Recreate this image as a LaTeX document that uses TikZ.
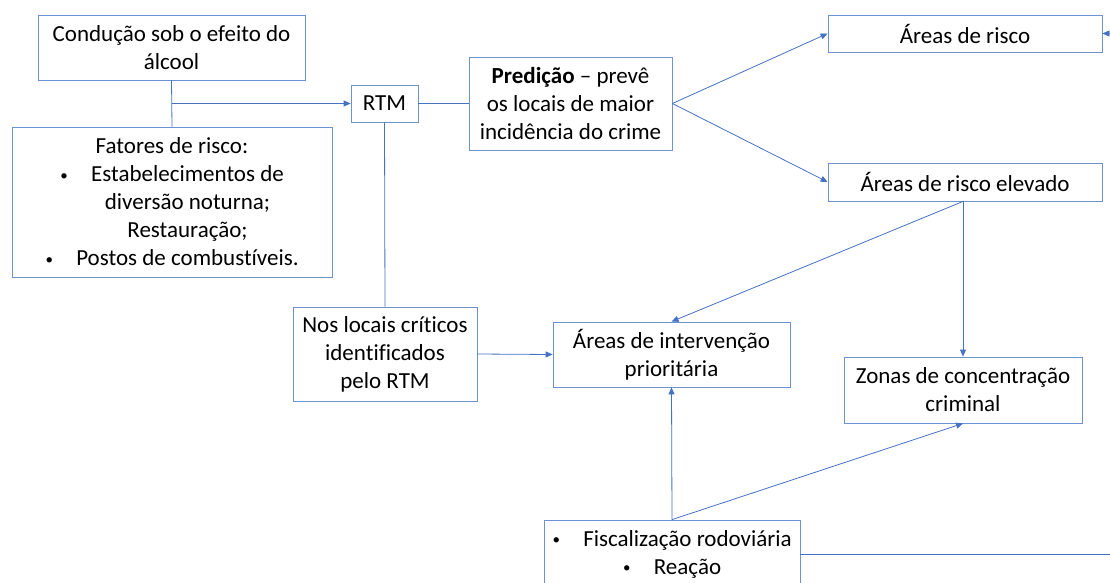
\documentclass[tikz,border=0pt]{standalone}
\usepackage{graphicx}
\usepackage{fontspec}
\setmainfont{Carlito}[Ligatures=NoCommon]
\usetikzlibrary{arrows.meta}
\definecolor{boxblue}{RGB}{110,145,210}
\definecolor{lineblue}{RGB}{68,114,196}
\newcommand{\marca}{\makebox[8pt]{\raisebox{1.2pt}{\scalebox{0.65}{\textbullet}}}\hspace{23pt}}
\tikzstyle{caixa}=[
        draw=boxblue,
        thick,
        align=center,
        inner sep=0pt,
        font=\fontsize{23}{28}\selectfont
]
\tikzstyle{liga}=[
        draw=lineblue,
        thick
]
\tikzstyle{seta}=[
        liga,
        -{Triangle[length=7pt,width=6pt]}
]

\begin{document}
\begin{tikzpicture}[x=1pt,y=-1pt]
                    \useasboundingbox (0,0) rectangle (1110,583);

                    \node[caixa, minimum width=267pt, minimum height=65pt] (conducao) at (171.5,47.5) {Condução sob o efeito do\\álcool};
                    \node[caixa, minimum width=320pt, minimum height=150pt] (fatores) at (172,202) {Fatores de risco:\\
                        \marca Estabelecimentos de\\
                        \hspace*{31pt}diversão noturna;\\
                        \hspace*{31pt}Restauração;\\
                        \marca Postos de combustíveis.};
                    \node[caixa, minimum width=67pt, minimum height=37pt] (rtm) at (384.5,103.5) {RTM};
                    \node[caixa, minimum width=203pt, minimum height=93pt] (predicao) at (570.5,103.5) {\textbf{Predição} – prevê\\os locais de maior\\incidência do crime};
                    \node[caixa, minimum width=274pt, minimum height=37pt] (risco) at (965,33.5) {Áreas de risco};
                    \node[caixa, minimum width=274pt, minimum height=38pt] (elevado) at (965,182) {Áreas de risco elevado};
                    \node[caixa, minimum width=184pt, minimum height=94pt] (locais) at (385,354) {Nos locais críticos\\identificados\\pelo RTM};
                    \node[caixa, minimum width=237pt, minimum height=65pt] (intervencao) at (671.5,354.5) {Áreas de intervenção\\prioritária};
                    \node[caixa, minimum width=238pt, minimum height=66pt] (zonas) at (963,390) {Zonas de concentração\\criminal};
                    \node[caixa, minimum width=256pt, minimum height=68pt] (fiscalizacao) at (672,554) {\marca Fiscalização rodoviária\\
                        \marca Reação};

                    \coordinate (entrada) at (1110,33.5);
                    \coordinate (saida) at (1110,554);

                    \draw[liga] (conducao.south) -- (fatores.north);
                    \draw[seta] (conducao.south |- rtm.west) -- (rtm.west);
                    \draw[liga] (rtm.east) -- (predicao.west);
                    \draw[liga] (rtm.south) -- (locais.north);
                    \draw[seta] (predicao.east) -- (risco.west);
                    \draw[seta] (predicao.east) -- (elevado.west);
                    \draw[seta] (entrada) -- (risco.east);
                    \draw[seta] (locais.east) -- (intervencao.west);
                    \draw[seta] (elevado.south -| zonas.north) -- (zonas.north);
                    \draw[seta] (elevado.south -| zonas.north) -- (intervencao.north);
                    \draw[seta] (fiscalizacao.north) -- (intervencao.south);
                    \draw[seta] (fiscalizacao.north) -- (zonas.south);
                    \draw[liga] (fiscalizacao.east) -- (saida);

                \end{tikzpicture}
\end{document}
